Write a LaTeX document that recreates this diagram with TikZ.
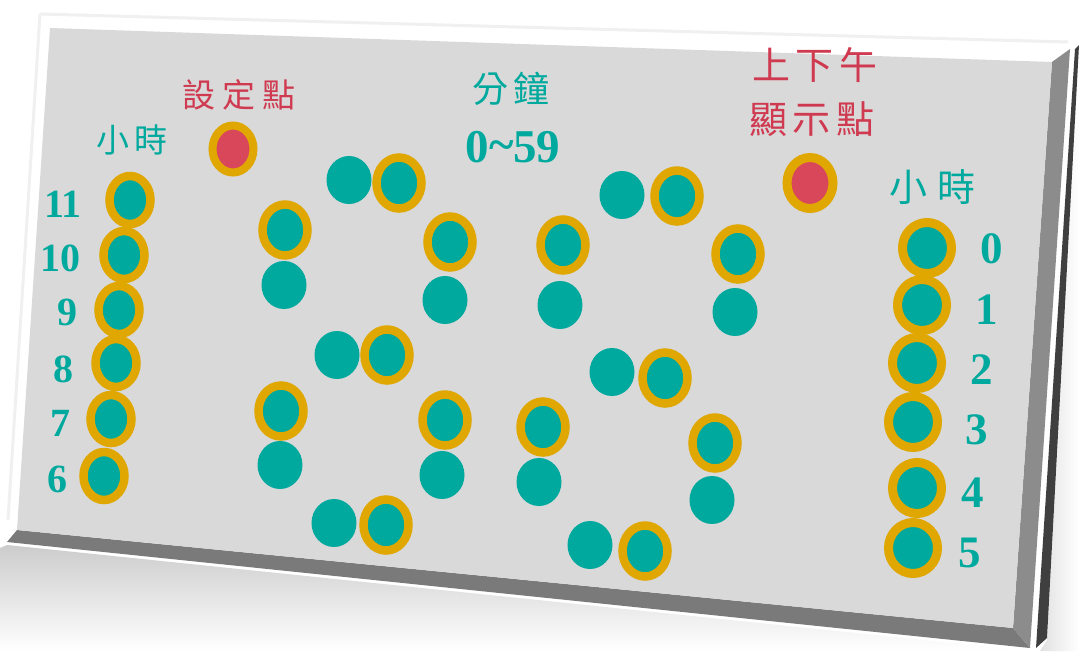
\documentclass[tikz,border=0pt]{standalone}
\usepackage{fontspec}
\setmainfont{Liberation Serif}
\newfontfamily\cjk{Noto Sans CJK TC}
\usetikzlibrary{shapes.geometric}
\definecolor{tealc}{HTML}{00A99D}
\definecolor{goldc}{HTML}{DFA700}
\definecolor{redc}{HTML}{D9475B}
\definecolor{redt}{HTML}{CF3A50}
\definecolor{facec}{HTML}{D9D9D9}
\definecolor{bevb}{HTML}{7A7A7A}
\definecolor{bevr}{HTML}{8C8C8C}
\definecolor{darkc}{HTML}{3F3F3F}
\tikzset{
  plain/.style={ellipse,fill=tealc,inner sep=0pt,minimum width=45pt,minimum height=48pt},
  ring/.style={ellipse,fill=tealc,draw=goldc,line width=8.5pt,inner sep=0pt,minimum width=45pt,minimum height=51pt},
  lring/.style={ellipse,fill=tealc,draw=goldc,line width=8.5pt,inner sep=0pt,minimum width=41pt,minimum height=48pt},
  rring/.style={ellipse,fill=tealc,draw=goldc,line width=9pt,inner sep=0pt,minimum width=49pt,minimum height=51pt},
  redring/.style={ellipse,fill=redc,draw=goldc,line width=8pt,inner sep=0pt},
  tlab/.style={text=tealc,inner sep=0pt,font=\cjk\fontsize{33pt}{33pt}\selectfont},
  rlab/.style={text=redt,inner sep=0pt,font=\cjk\fontsize{33pt}{33pt}\selectfont},
  lnum/.style={text=tealc,inner sep=0pt,font=\bfseries\fontsize{40pt}{40pt}\selectfont},
  rnum/.style={text=tealc,inner sep=0pt,font=\bfseries\fontsize{45pt}{45pt}\selectfont}
}
\begin{document}
\begin{tikzpicture}[x=1pt,y=-1pt]
\useasboundingbox (0,0) rectangle (1079,651);
\fill[white] (0,0) rectangle (1079,651);
% soft shadow below
\shade[top color=black!20,bottom color=white] (7,545) -- (1030,651) -- (0,651) -- (0,548) -- cycle;
\shade[left color=black!12,right color=white] (1047,640) -- (1079,60) -- (1079,651) -- (1040,651) -- cycle;
% faint top reflection
\draw[black!6,line width=3pt] (40,14) -- (1068,42);
\draw[black!6,line width=3pt] (40,14) -- (8,520);
% bevels
\fill[bevb] (17,530) -- (1013,628) -- (1030,648) -- (7,542) -- cycle;
\fill[bevr] (1052,62) -- (1070,49) -- (1030,648) -- (1013,628) -- cycle;
\fill[darkc] (1075,49) -- (1079,45) -- (1047,638) -- (1036,648) -- cycle;
% face
\fill[facec] (50,28) -- (1052,62) -- (1013,628) -- (17,530) -- cycle;
% labels
\node[tlab] (hl) at (132,140) {小\hspace{6pt}時};
\node[rlab] (setl) at (239,95) {設\hspace{7pt}定\hspace{7pt}點};
\node[tlab,font=\cjk\fontsize{36pt}{36pt}\selectfont] (minl) at (511,89) {分\hspace{6pt}鐘};
\node[text=tealc,inner sep=0pt,font=\bfseries\fontsize{47pt}{47pt}\selectfont] (minr) at (513,147) {0\raisebox{2pt}{\char`\~}59};
\node[rlab,font=\cjk\fontsize{38pt}{38pt}\selectfont] (ampm1) at (815,65) {上\hspace{6pt}下\hspace{6pt}午};
\node[rlab,font=\cjk\fontsize{38pt}{38pt}\selectfont] (ampm2) at (812,119) {顯\hspace{6pt}示\hspace{6pt}點};
\node[tlab,font=\cjk\fontsize{38pt}{38pt}\selectfont] (hr) at (932,187) {小\hspace{10pt}時};
% red dots
\node[redring,minimum width=41pt,minimum height=47pt] (setdot) at (233,149) {};
\node[redring,line width=9pt,minimum width=46pt,minimum height=51pt] (ampmdot) at (810,183) {};
% left hour column
\node[lring] (h11) at (130,200) {};
\node[lring] (h10) at (124,255) {};
\node[lring] (h9) at (119,310) {};
\node[lring] (h8) at (116,363) {};
\node[lring] (h7) at (111,419) {};
\node[lring] (h6) at (104,476) {};
\node[lnum] (n11) at (63,204) {11};
\node[lnum] (n10) at (60,258) {10};
\node[lnum] (n9) at (67,312) {9};
\node[lnum] (n8) at (63,369) {8};
\node[lnum] (n7) at (60,423) {7};
\node[lnum] (n6) at (57,479) {6};
% right hour column
\node[rring] (h0) at (927,248) {};
\node[rring] (h1) at (922,305) {};
\node[rring] (h2) at (917,363) {};
\node[rring] (h3) at (913,422) {};
\node[rring] (h4) at (917,488) {};
\node[rring] (h5) at (913,548) {};
\node[rnum] (n0) at (992,249) {0};
\node[rnum] (n1) at (987,310) {1};
\node[rnum] (n2) at (982,370) {2};
\node[rnum] (n3) at (977,430) {3};
\node[rnum] (n4) at (973,493) {4};
\node[rnum] (n5) at (970,553) {5};
% digit 1
\node[plain] (a1) at (349,180) {};
\node[ring] (a2) at (399,183) {};
\node[ring] (b1) at (285,230) {};
\node[plain] (b2) at (284,285) {};
\node[ring] (c1) at (450,242) {};
\node[plain] (c2) at (445,300) {};
\node[plain] (g1) at (337,355) {};
\node[ring] (g2) at (387,355) {};
\node[ring] (e1) at (281,411) {};
\node[plain] (e2) at (280,465) {};
\node[ring] (f1) at (445,420) {};
\node[plain] (f2) at (442,475) {};
\node[plain] (d1) at (334,523) {};
\node[ring] (d2) at (386,525) {};
% digit 2
\node[plain] (A1) at (622,195) {};
\node[ring] (A2) at (677,196) {};
\node[ring] (B1) at (563,245) {};
\node[plain] (B2) at (560,305) {};
\node[ring] (C1) at (738,254) {};
\node[plain] (C2) at (735,312) {};
\node[plain] (G1) at (612,372) {};
\node[ring] (G2) at (665,378) {};
\node[ring] (E1) at (543,427) {};
\node[plain] (E2) at (539,482) {};
\node[ring] (F1) at (715,443) {};
\node[plain] (F2) at (712,500) {};
\node[plain] (D1) at (590,545) {};
\node[ring] (D2) at (645,551) {};
\end{tikzpicture}
\end{document}
